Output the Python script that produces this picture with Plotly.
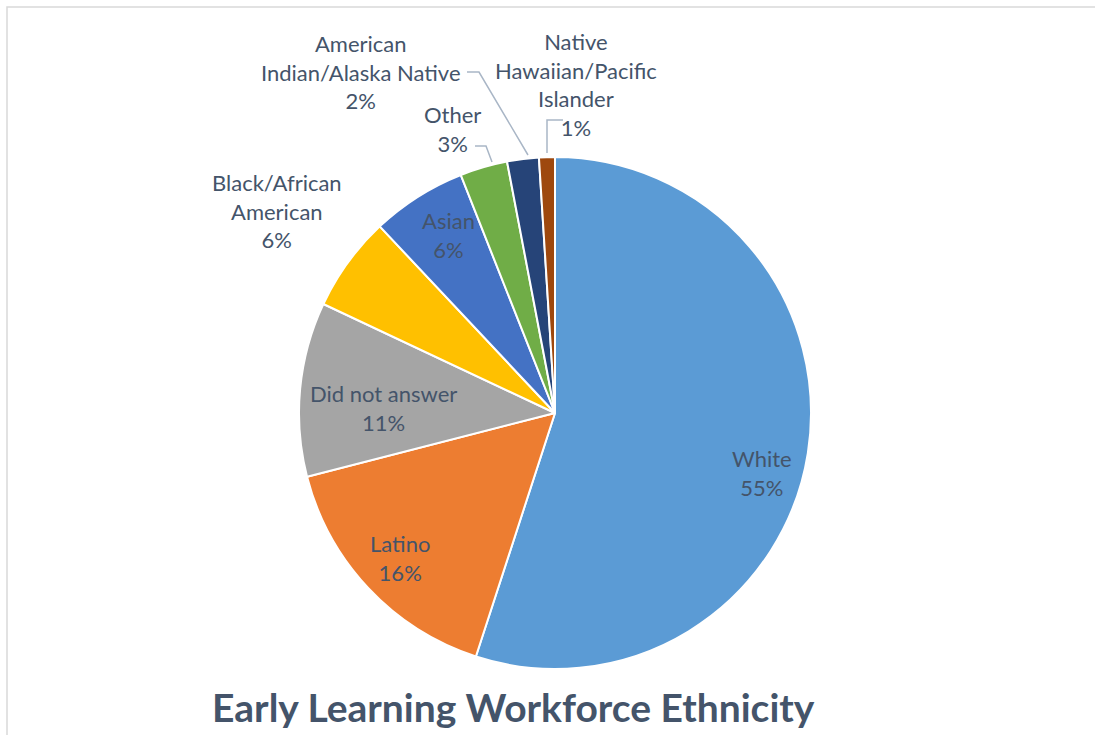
import plotly.graph_objects as go

labels = ["White", "Latino", "Did not answer", "Black/African American", "Asian",
          "Other", "American Indian/Alaska Native", "Native Hawaiian/Pacific Islander"]
values = [55, 16, 11, 6, 6, 3, 2, 1]
colors = ["#5B9BD5", "#ED7D31", "#A5A5A5", "#FFC000", "#4472C4", "#70AD47", "#264478", "#9E480E"]
title = "Early Learning Workforce Ethnicity"

# label text blocks (display line breaks) and their positions in pixels
label_lines = {
    "White": "White",
    "Latino": "Latino",
    "Did not answer": "Did not answer",
    "Black/African American": "Black/African<br>American",
    "Asian": "Asian",
    "Other": "Other",
    "American Indian/Alaska Native": "American<br>Indian/Alaska Native",
    "Native Hawaiian/Pacific Islander": "Native<br>Hawaiian/Pacific<br>Islander",
}
label_pos = {
    "White": (762, 473),
    "Latino": (400, 558),
    "Did not answer": (383, 408),
    "Black/African American": (277, 211),
    "Asian": (448, 235),
    "Other": (452, 129),
    "American Indian/Alaska Native": (361, 72),
    "Native Hawaiian/Pacific Islander": (576, 84),
}

W, H = 1095, 735
def px(x): return x / W
def py(y): return 1 - y / H

cx, cy, r = 555, 413, 256
fig = go.Figure(go.Pie(
    labels=labels, values=values, sort=False, direction="clockwise", rotation=0,
    marker=dict(colors=colors, line=dict(color="white", width=2)),
    textinfo="none", hoverinfo="label+percent", showlegend=False,
    domain=dict(x=[px(cx - r), px(cx + r)], y=[py(cy + r), py(cy - r)]),
))

font_color = "#44546A"
total = sum(values)
for lab, val in zip(labels, values):
    x, y = label_pos[lab]
    fig.add_annotation(x=px(x), y=py(y), xref="paper", yref="paper",
                       text=f"{label_lines[lab]}<br>{round(100*val/total)}%",
                       showarrow=False, xanchor="center", yanchor="middle",
                       font=dict(family="Lato", size=22, color=font_color))

# leader lines
lc = "#A9B6C6"
leaders = [
    [(475, 146), (486, 146), (492, 162)],   # Other
    [(467, 72), (479, 72), (528, 155)],     # American Indian
    [(563, 120), (547, 120), (547, 153)],   # Native Hawaiian
]
for pts in leaders:
    path = "M " + " L ".join(f"{px(a)},{py(b)}" for a, b in pts)
    fig.add_shape(type="path", path=path, xref="paper", yref="paper",
                  line=dict(color=lc, width=1.5))

# chart border
fig.add_shape(type="rect", xref="paper", yref="paper", x0=px(7), y0=py(745), x1=px(1105), y1=py(7),
              line=dict(color="#D9D9D9", width=1.5))

fig.add_annotation(x=px(513), y=py(707), xref="paper", yref="paper", text=f"<b>{title}</b>",
                   showarrow=False, xanchor="center", yanchor="middle",
                   font=dict(family="Lato", size=39, color=font_color))

fig.update_layout(width=W, height=H, margin=dict(l=0, r=0, t=0, b=0),
                  paper_bgcolor="white", plot_bgcolor="white")
fig.write_html("out.html", config={"displayModeBar": False},
               post_script="document.body.style.margin='0';")
